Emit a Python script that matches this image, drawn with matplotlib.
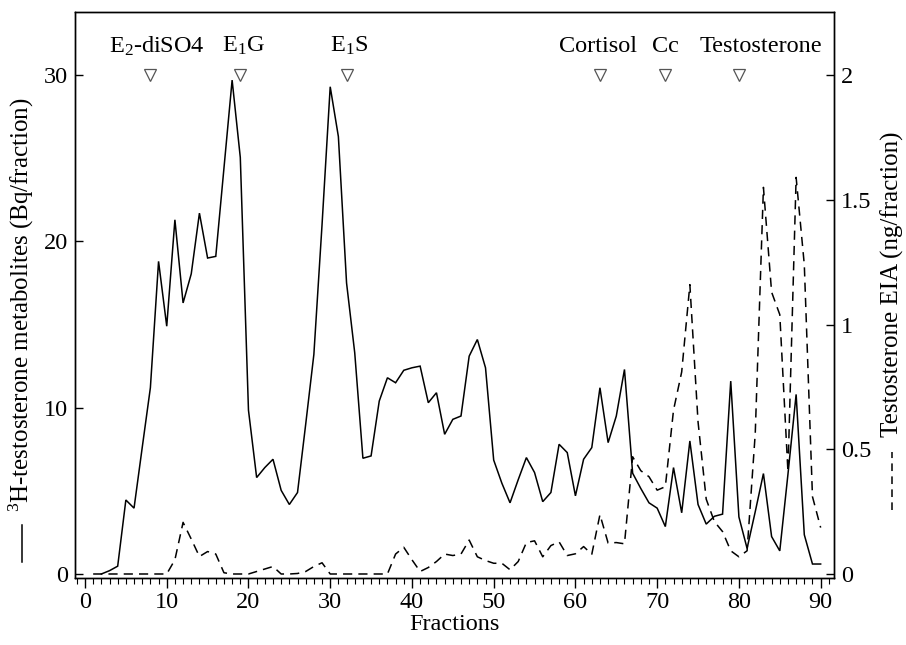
import numpy as np
import matplotlib
matplotlib.use("Agg")
import matplotlib.pyplot as plt
from matplotlib.lines import Line2D
from matplotlib.ticker import MultipleLocator

plt.rcParams['font.family'] = ['Liberation Serif', 'DejaVu Serif']
plt.rcParams['mathtext.fontset'] = 'custom'
plt.rcParams['mathtext.rm'] = 'Liberation Serif'
plt.rcParams['mathtext.it'] = 'Liberation Serif:italic'

# 3H-testosterone metabolites (Bq/fraction), fractions 2..90
h3_fractions = list(range(2, 91))
h3_values = [0.0, 0.2, 0.47, 4.45, 3.96, 7.6, 11.2, 18.8, 14.9, 21.3, 16.3, 18.05, 21.7, 19.0, 19.1,
             24.4, 29.7, 25.05, 9.85, 5.8, 6.4, 6.9, 5.03, 4.18, 4.9, 9.0, 13.2, 21.0, 29.3, 26.3,
             17.5, 13.3, 6.96, 7.1, 10.4, 11.8, 11.5, 12.25, 12.4, 12.5, 10.3, 10.9, 8.4, 9.3, 9.5,
             13.1, 14.1, 12.4, 6.85, 5.46, 4.28, 5.67, 7.0, 6.1, 4.35, 4.9, 7.8, 7.3, 4.7, 6.9,
             7.6, 11.2, 7.9, 9.5, 12.3, 6.06, 5.14, 4.28, 3.96, 2.85, 6.4, 3.68, 8.0, 4.18, 3.0,
             3.47, 3.6, 11.6, 3.43, 1.54, 3.75, 6.04, 2.25, 1.39, 6.0, 10.8, 2.36, 0.6, 0.6]

# Testosterone EIA (ng/fraction), fractions 1..90
eia_fractions = list(range(1, 91))
eia_values = [0.0, 0.0, 0.0, 0.0, 0.0, 0.0, 0.0, 0.0, 0.0, 0.0, 0.057, 0.207, 0.14, 0.07, 0.09,
              0.08, 0.005, 0.0, 0.0, 0.0, 0.01, 0.02, 0.03, 0.0, 0.0, 0.002, 0.01, 0.03, 0.045, 0.0,
              0.0, 0.0, 0.0, 0.0, 0.0, 0.0, 0.0, 0.08, 0.107, 0.057, 0.01, 0.026, 0.05, 0.08, 0.074,
              0.08, 0.136, 0.069, 0.054, 0.043, 0.043, 0.017, 0.05, 0.126, 0.133, 0.069, 0.114, 0.129, 0.074, 0.081,
              0.11, 0.079, 0.238, 0.124, 0.126, 0.121, 0.47, 0.414, 0.39, 0.336, 0.35, 0.657, 0.81, 1.16, 0.61,
              0.3, 0.21, 0.17, 0.093, 0.069, 0.093, 0.564, 1.55, 1.13, 1.04, 0.41, 1.59, 1.24, 0.31, 0.186]

# Standards (elution positions)
std_names = ['E$_2$-diSO4', 'E$_1$G', 'E$_1$S', 'Cortisol', 'Cc', 'Testosterone']
std_fractions = [8, 19, 32, 63, 71, 80]
std_label_x = [8.8, 19.4, 32.3, 62.8, 71, 82.7]

fig = plt.figure(figsize=(9.06, 6.45), dpi=100)
ax = fig.add_axes([0.0828, 0.1039, 0.8377, 0.8771])
ax2 = ax.twinx()

ax.plot(h3_fractions, h3_values, color='black', lw=1.1, solid_joinstyle='miter')
ax2.plot(eia_fractions, eia_values, color='black', lw=1.1, dashes=(6, 4))

ax.plot(std_fractions, [30] * len(std_fractions), linestyle='none', marker='v',
        markersize=9, markerfacecolor='white', markeredgecolor='#555555', markeredgewidth=0.9)
for name, lx in zip(std_names, std_label_x):
    ax.text(lx, 31.75, name, ha='center', va='center', fontsize=17.5)

ax.set_xlim(-1.22, 91.63)
ax.set_ylim(-0.24, 33.78)
ax2.set_ylim(-0.24 / 15, 33.78 / 15)

ax.xaxis.set_major_locator(MultipleLocator(10))
ax.xaxis.set_minor_locator(MultipleLocator(1))
ax.set_yticks([0, 10, 20, 30])
ax2.set_yticks([0, 0.5, 1, 1.5, 2])
ax2.set_yticklabels(['0', '0.5', '1', '1.5', '2'])

ax.tick_params(axis='x', which='major', direction='out', length=7, width=1, labelsize=17.5, pad=3)
ax.tick_params(axis='x', which='minor', direction='out', length=4, width=0.8)
ax.tick_params(axis='y', direction='in', length=6, width=1, labelsize=17.5, pad=5)
ax2.tick_params(axis='y', direction='in', length=6, width=1, labelsize=17.5, pad=5)
for sp in list(ax.spines.values()) + list(ax2.spines.values()):
    sp.set_linewidth(1.0)

ax.set_xlabel('Fractions', fontsize=17.5, labelpad=1)

fig.text(0.024, 0.527, '$^3$H-testosterone metabolites (Bq/fraction)', rotation=90,
         ha='center', va='center', fontsize=18)
fig.add_artist(Line2D([0.0243, 0.0243], [0.129, 0.186], transform=fig.transFigure,
                      color='black', lw=1.1))
fig.text(0.985, 0.56, 'Testosterone EIA (ng/fraction)', rotation=90,
         ha='center', va='center', fontsize=18)
fig.add_artist(Line2D([0.985, 0.985], [0.209, 0.299], transform=fig.transFigure,
                      color='black', lw=1.1, dashes=(5, 3.5)))

fig.savefig('out.png', dpi=100)
